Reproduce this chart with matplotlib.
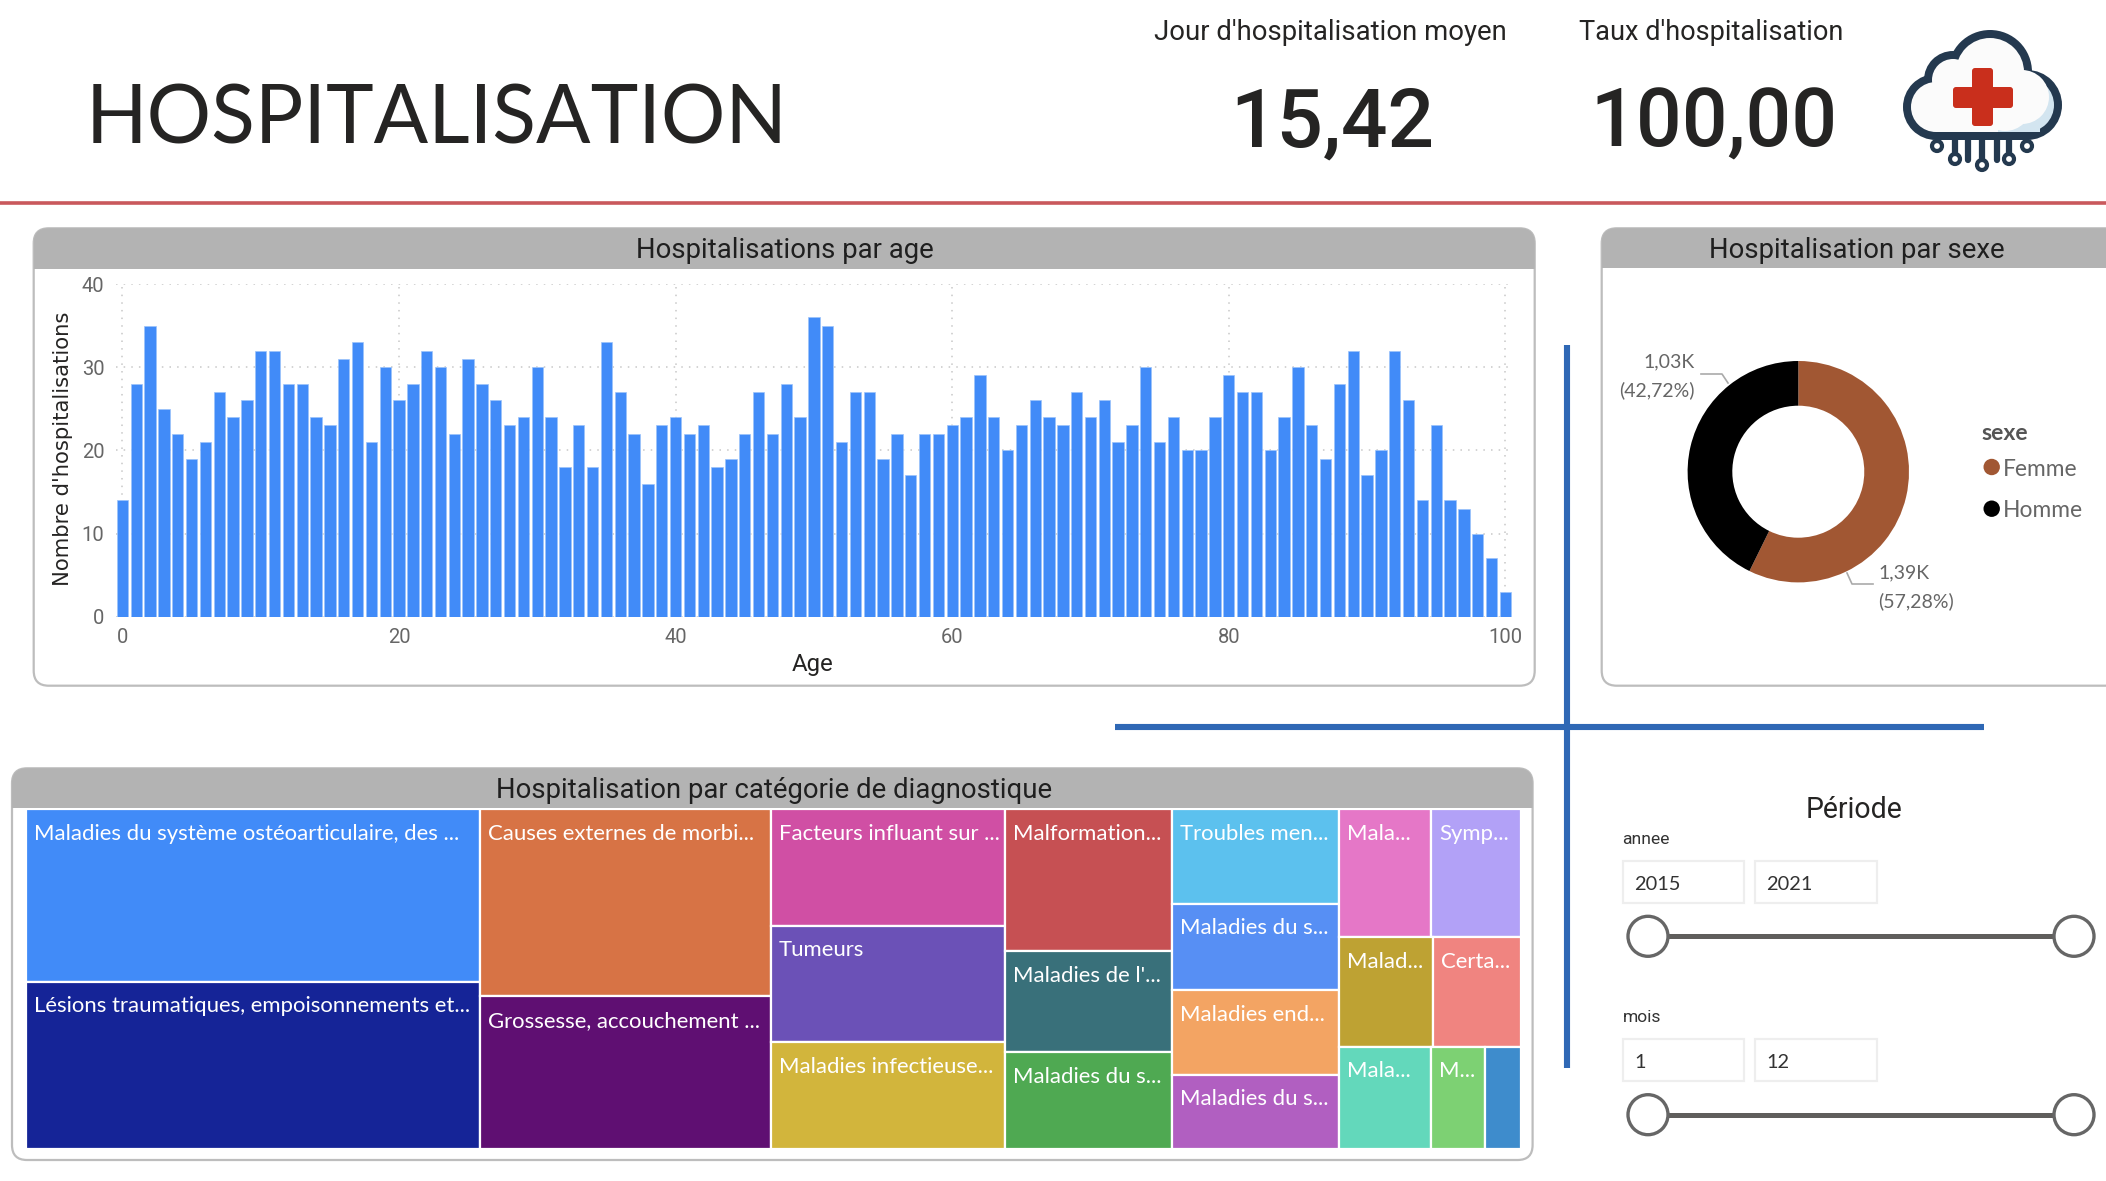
import matplotlib
matplotlib.use("Agg")
import matplotlib.pyplot as plt
from matplotlib.patches import Rectangle, FancyBboxPatch, Circle

# ---------- data ----------
ages = list(range(101))
age_counts = [14,28,35,25,22,19,21,27,24,26,32,32,28,28,24,23,31,33,21,30,
              26,28,32,30,22,31,28,26,23,24,30,24,18,23,18,33,27,22,16,23,
              24,22,23,18,19,22,27,22,28,24,36,35,21,27,27,19,22,17,22,22,
              23,24,29,24,20,23,26,24,23,27,24,26,21,23,30,21,24,20,20,24,
              29,27,27,20,24,30,23,19,28,32,17,20,32,26,14,23,14,13,10,7,3]
sex_labels = ["Femme", "Homme"]
sex_counts = [1386, 1034]
sex_texts = ["1,39K\n(57,28%)", "1,03K\n(42,72%)"]
sex_colors = ["#A15733", "#000000"]

diag_labels = ["Maladies du système ostéoarticulaire, des ...", "Lésions traumatiques, empoisonnements et...",
               "Causes externes de morbi...", "Grossesse, accouchement ...",
               "Facteurs influant sur ...", "Tumeurs", "Maladies infectieuse...",
               "Malformation...", "Maladies de l'...", "Maladies du s...",
               "Troubles men...", "Maladies du s...", "Maladies end...", "Maladies du s...",
               "Mala...", "Symp...", "Malad...", "Certa...", "Mala...", "M...", ""]
diag_values = [373,361,258,211,130,130,119,113,80,77,75,69,67,59,56,55,49,46,45,26,18]
diag_colors = ["#418BF8","#152497","#D77345","#5F0F72","#D04FA4","#6B51B7","#D2B53C",
               "#C65053","#39707A","#4FA952","#5CC1EE","#578FF4","#F3A463","#B15FC1",
               "#E577C7","#B2A1F7","#BEA233","#F08480","#63D8BB","#7DD173","#3E8CCC"]
diag_columns = [[0,1],[2,3],[4,5,6],[7,8,9],[10,11,12,13]]
diag_last_rows = [[14,15],[16,17],[18,19,20]]

kpi_names = ["Jour d'hospitalisation moyen", "Taux d'hospitalisation"]
kpi_values = ["15,42", "100,00"]
year_range = ["2015", "2021"]
month_range = ["1", "12"]

# ---------- canvas ----------
W, H = 2106, 1181
UI = "Lato"
HEAD = "Roboto"
DARK = "#252423"
fig = plt.figure(figsize=(W/100, H/100), dpi=100, facecolor="white")
bg = fig.add_axes([0, 0, 1, 1], zorder=0)
bg.set_xlim(0, W); bg.set_ylim(H, 0); bg.axis("off")
rend = fig.canvas.get_renderer()

def pos(x0, y0, x1, y1):
    return [x0/W, 1-y1/H, (x1-x0)/W, (y1-y0)/H]

def txt(x, y, s, px, color=DARK, family=UI, ha="left", va="center", width=None, **kw):
    if va == "center":
        y += 2
    t = bg.text(x, y, s, fontsize=px*0.72, color=color, family=family, ha=ha, va=va, **kw)
    if width:
        t.set_fontsize(t.get_fontsize()*width/t.get_window_extent(rend).width)
    return t

def card(x0, y0, x1, y1, yh, title, cx, cy, tw):
    rad = 15
    p = FancyBboxPatch((x0+rad, y0+rad), x1-x0-2*rad, y1-y0-2*rad,
                       boxstyle=f"round,pad={rad},rounding_size={rad}",
                       fc="white", ec="#BDBDBD", lw=1.6, zorder=1)
    bg.add_patch(p)
    h = Rectangle((x0, y0), x1-x0, yh-y0, fc="#B3B3B3", ec="none", zorder=1.1)
    bg.add_patch(h); h.set_clip_path(p)
    txt(cx, cy, title, 26, color="#1F1F1F", family=HEAD, ha="center", width=tw, zorder=3)

# header
txt(85.5, 144, "HOSPITALISATION", 87, color="#252423", va="baseline", width=702)
bg.plot([0, W], [203, 203], color="#C9585C", lw=2.6, solid_capstyle="butt")
txt(1153.6, 30.5, kpi_names[0], 26, family=HEAD, width=352)
txt(1578.6, 30.5, kpi_names[1], 26, family=HEAD, width=264)
txt(1332, 147, kpi_values[0], 88, family=HEAD, ha="center", va="baseline", width=204, fontweight="medium")
txt(1714, 147, kpi_values[1], 88, family=HEAD, ha="center", va="baseline", width=247, fontweight="medium")

# logo
NAVY = "#24394F"
lobes = [(1990, 72, 42), (1953, 80, 29), (1936, 107, 33), (2027, 105, 35)]
def cloud(grow, col, z):
    for cx, cy, r in lobes:
        bg.add_patch(Circle((cx, cy), r+grow, fc=col, ec="none", zorder=z))
    bg.add_patch(Rectangle((1936, 75), 91, 65+grow, fc=col, ec="none", zorder=z))
cloud(0, NAVY, 2)
bg.add_patch(Circle((2027, 105), 27, fc="#D3E5F0", ec="none", zorder=2.1))
bg.add_patch(Rectangle((1980, 105), 60, 27, fc="#D3E5F0", ec="none", zorder=2.1))
for cx, cy, r in lobes[:3]:
    bg.add_patch(Circle((cx, cy), r-8, fc="#FBFBFB", ec="none", zorder=2.2))
bg.add_patch(Circle((2022, 97), 27, fc="#FBFBFB", ec="none", zorder=2.2))
bg.add_patch(Circle((2005, 104), 27, fc="#FBFBFB", ec="none", zorder=2.2))
bg.add_patch(Rectangle((1936, 85), 62, 47, fc="#FBFBFB", ec="none", zorder=2.2))
for x0, y0, w, h in [(1972, 68, 21, 58), (1953, 87, 60, 21)]:
    bg.add_patch(FancyBboxPatch((x0+3, y0+3), w-6, h-6, boxstyle="round,pad=3,rounding_size=3",
                                fc="#C92F1C", ec="none", zorder=2.3))
for x, yb in [(1955, 160), (1968, 160), (1982, 165), (1997, 160), (2009, 160)]:
    bg.plot([x, x], [138, yb], color=NAVY, lw=4.5, solid_capstyle="round", zorder=2)
for x, y in [(1937, 146), (1955, 159), (1982, 165), (2009, 159), (2027, 146)]:
    bg.add_patch(Circle((x, y), 5, fc="white", ec=NAVY, lw=3, zorder=2.4))

# cards
card(33.7, 228.3, 1534.7, 685.7, 268.7, "Hospitalisations par age", 785, 248, 297)
card(1601.7, 228.3, 2120, 685.7, 268.3, "Hospitalisation par sexe", 1856.7, 248, 295)
card(12, 768.3, 1532.6, 1160, 808.3, "Hospitalisation par catégorie de diagnostique", 773.6, 788, 556)

# blue cross
bg.plot([1567, 1567], [345, 1068], color="#2F68B5", lw=4.4, solid_capstyle="butt", zorder=1.5)
bg.plot([1115, 1984], [726.6, 726.6], color="#2F68B5", lw=4.4, solid_capstyle="butt", zorder=1.5)

# bars
ax = fig.add_axes(pos(115.5, 284, 1512.3, 616.7), zorder=2)
ax.patch.set_alpha(0)
ax.bar(ages, age_counts, width=0.82, color="#418BF8", edgecolor="#9CC3FA", linewidth=0.5, zorder=2)
ax.set_xlim(-0.5, 100.5); ax.set_ylim(0, 40)
ax.set_xticks(range(0, 101, 20)); ax.set_yticks(range(0, 41, 10))
ax.grid(True, color="#C8C8C8", linestyle=(0, (1, 4)), linewidth=1.1, zorder=0)
ax.set_axisbelow(True)
for s in ax.spines.values():
    s.set_visible(False)
ax.tick_params(length=0, pad=8, labelsize=14.5, labelcolor="#666666")
for t in ax.get_xticklabels() + ax.get_yticklabels():
    t.set_family(HEAD)
txt(63, 447, "Nombre d'hospitalisations", 21.1, family="DejaVu Sans", rotation=90, ha="center",
    color="#252423", zorder=3)
txt(813, 662, "Age", 24, family=HEAD, ha="center", zorder=3)

# donut
R = 110.7
dn = fig.add_axes(pos(1798.3-R, 471.7-R, 1798.3+R, 471.7+R), zorder=2)
dn.pie(sex_counts, colors=sex_colors, startangle=90, counterclock=False, radius=1,
       wedgeprops=dict(width=1-66/R, linewidth=0))
dn.set_xlim(-1, 1); dn.set_ylim(-1, 1)
txt(1695, 374, sex_texts[1], 19.5, color="#666666", ha="right", linespacing=1.75, multialignment="right")
txt(1878.5, 585, sex_texts[0], 19.5, color="#666666", linespacing=1.75)
bg.plot([1701, 1722, 1728], [374, 374, 383], color="#AAAAAA", lw=1.2, zorder=1.5)
bg.plot([1847, 1852, 1873], [573, 584, 584], color="#AAAAAA", lw=1.2, zorder=1.5)
txt(1981.7, 432, "sexe", 23, color="#555555", fontweight="bold")
for name, col, y in zip(sex_labels, sex_colors, [467, 508.7]):
    bg.add_patch(Circle((1991.7, y), 8.2, fc=col, ec="none", zorder=3))
    txt(2003, y, name, 22.7, color="#666666")

# treemap
tm = fig.add_axes(pos(26.4, 809.3, 1521.5, 1149), zorder=2)
total = sum(diag_values)
tm.set_xlim(0, total); tm.set_ylim(1, 0); tm.axis("off")
def cell(i, x, y, w, h):
    tm.add_patch(Rectangle((x, y), w, h, fc=diag_colors[i], ec="white", lw=1.6))
    if diag_labels[i]:
        tm.annotate(diag_labels[i], (x, y), xytext=(8, -24.5), textcoords="offset pixels",
                    color="white", fontsize=15.9, family=UI, va="center", ha="left")
x = 0
for col in diag_columns:
    w = sum(diag_values[i] for i in col); y = 0
    for i in col:
        h = diag_values[i]/w
        cell(i, x, y, w, h); y += h
    x += w
last = sum(diag_values[i] for r in diag_last_rows for i in r); y = 0
for row in diag_last_rows:
    rw = sum(diag_values[i] for i in row); h = rw/last; xx = x
    for i in row:
        wi = diag_values[i]/rw*last
        cell(i, xx, y, wi, h); xx += wi
    y += h

# slicers
txt(1854.5, 808, "Période", 28.5, family=HEAD, ha="center")
def slicer(name, vals, yl, yb, ys):
    txt(1622.6, yl, name, 17.5, color="#333333", family=HEAD)
    for x0, x1, v in zip([1622.6, 1755], [1744.4, 1876.6], vals):
        bg.add_patch(Rectangle((x0, yb), x1-x0, 42, fc="white", ec="#EEEEEE", lw=1.6))
        txt(x0+11.5, yb+21.5, v, 20, color="#333333")
    bg.plot([1648, 2074], [ys, ys], color="#605E5C", lw=3.6, solid_capstyle="butt", zorder=1.5)
    for cx in [1648, 2074]:
        bg.add_patch(Circle((cx, ys), 20, fc="white", ec="#666666", lw=2.4, zorder=2))
slicer("annee", year_range, 838, 860.7, 936.3)
slicer("mois", month_range, 1016, 1039.3, 1114.7)

fig.savefig("out.png", dpi=100, facecolor="white")
